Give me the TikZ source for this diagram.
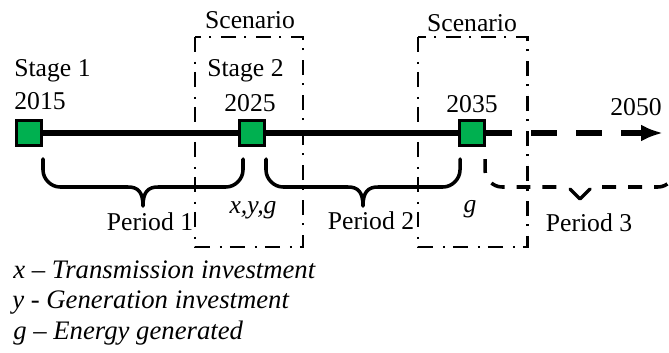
\documentclass[tikz,border=0pt]{standalone}
\usepackage{fontspec}
\setmainfont{Liberation Serif}
\usetikzlibrary{arrows.meta}
\definecolor{stagegreen}{RGB}{0,176,80}

\begin{document}
\begin{tikzpicture}[x=0.02cm, y=-0.02cm, >=Latex,
    font=\fontsize{14.6}{17}\selectfont,
    stage/.style={draw, line width=1.8pt, fill=stagegreen, minimum size=0.5cm, inner sep=0pt},
    txt/.style={inner sep=0pt},
    legend/.style={txt, anchor=base west, font=\fontsize{15.2}{18}\selectfont\itshape},
    timeline/.style={line width=3pt},
    scenbox/.style={line width=1.7pt, dash pattern=on 0.3cm off 0.2cm on 0.04cm off 0.16cm},
    period/.style={line width=2pt, line cap=round, line join=round},
    later/.style={period, line cap=butt, dash pattern=on 0.28cm off 0.24cm}]
  \clip (0,0) rectangle (669,352);

  % stages on the time line
  \node[stage] (s1) at (29,133) {};
  \node[stage] (s2) at (252,133) {};
  \node[stage] (s3) at (472,133) {};
  \coordinate (end) at (663,133);

  \draw[timeline] (s1) -- (s2) -- (s3);
  \draw[timeline, dash pattern=on 0.52cm off 0.38cm, -{Latex[length=0.44cm, width=0.34cm]}] (s3) -- (end);

  % scenario windows
  \draw[scenbox] (195,37) rectangle (303,247);
  \draw[scenbox] (418,37) rectangle (527,247);
  \node[txt, anchor=base] (sc1) at (250,28) {Scenario};
  \node[txt, anchor=base] (sc2) at (472,31) {Scenario};

  \node[txt, anchor=base west] (st1) at (14,76) {Stage 1};
  \node[txt, anchor=base west] (yr1) at (14,109) {2015};
  \node[txt, anchor=base west] (st2) at (207,76) {Stage 2};
  \node[txt, anchor=base] (yr2) at (250,111) {2025};
  \node[txt, anchor=base] (yr3) at (472,112) {2035};
  \node[txt, anchor=base] (yr4) at (636,115) {2050};

  % periods (curly braces under the line)
  \draw[period] (43,159) -- (43,170) .. controls (43,179) and (51,187) .. (60,187)
    -- (128,187) .. controls (138,187) and (143,192) .. (143,206)
    .. controls (143,192) and (148,187) .. (158,187)
    -- (226,187) .. controls (235,187) and (243,179) .. (243,170) -- (243,159);
  \draw[period] (266,159) -- (266,170) .. controls (266,179) and (274,187) .. (283,187)
    -- (348,187) .. controls (358,187) and (363,192) .. (363,206)
    .. controls (363,192) and (368,187) .. (378,187)
    -- (443,187) .. controls (452,187) and (460,179) .. (460,170) -- (460,159);
  % last period runs on past the edge
  \draw[later] (485,159) -- (485,170) .. controls (485,179) and (493,187) .. (502,187) -- (557,187);
  \draw[period] (570,189) -- (580,199) -- (590,189);
  \draw[later] (602,187) -- (658,187) .. controls (667,187) and (675,179) .. (675,170) -- (675,159);

  \node[txt, anchor=base] (p1) at (150,230) {Period 1};
  \node[txt, anchor=base] (p2) at (371,229) {Period 2};
  \node[txt, anchor=base] (p3) at (589,231) {Period 3};
  \node[txt, anchor=base] (v2) at (253,213) {\textit{x,y,g}};
  \node[txt, anchor=base] (v3) at (470,212) {\textit{g}};

  % legend
  \node[legend] (lx) at (13,278) {x – Transmission investment};
  \node[legend] (ly) at (12,308) {y - Generation investment};
  \node[legend] (lg) at (13,339) {g – Energy generated};
\end{tikzpicture}
\end{document}
